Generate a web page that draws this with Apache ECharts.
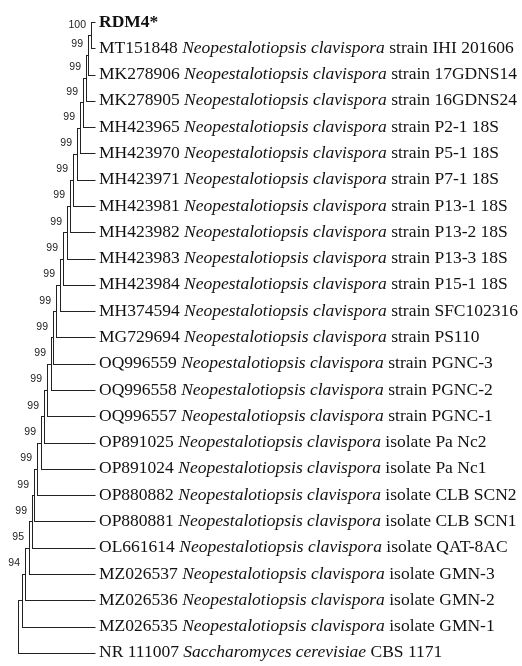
<!DOCTYPE html>
<html><head><meta charset="utf-8">
<script src="https://cdn.jsdelivr.net/npm/echarts@6/dist/echarts.min.js"></script>
<style>html,body{margin:0;padding:0;background:#fff}#c{width:522px;height:666px}</style>
</head><body><div id="c"></div>
<script>
const leafIds = ['RDM4*', 'MT151848', 'MK278906', 'MK278905', 'MH423965', 'MH423970', 'MH423971', 'MH423981', 'MH423982', 'MH423983', 'MH423984', 'MH374594', 'MG729694', 'OQ996559', 'OQ996558', 'OQ996557', 'OP891025', 'OP891024', 'OP880882', 'OP880881', 'OL661614', 'MZ026537', 'MZ026536', 'MZ026535', 'NR 111007'];
const NC = 'Neopestalotiopsis clavispora';
const leafSpecies = ['', NC, NC, NC, NC, NC, NC, NC, NC, NC, NC, NC, NC, NC, NC, NC, NC, NC, NC, NC, NC, NC, NC, NC, 'Saccharomyces cerevisiae'];
const leafQualifiers = ['', 'strain IHI 201606', 'strain 17GDNS14', 'strain 16GDNS24', 'strain P2-1 18S', 'strain P5-1 18S', 'strain P7-1 18S', 'strain P13-1 18S', 'strain P13-2 18S', 'strain P13-3 18S', 'strain P15-1 18S', 'strain SFC102316', 'strain PS110', 'strain PGNC-3', 'strain PGNC-2', 'strain PGNC-1', 'isolate Pa Nc2', 'isolate Pa Nc1', 'isolate CLB SCN2', 'isolate CLB SCN1', 'isolate QAT-8AC', 'isolate GMN-3', 'isolate GMN-2', 'isolate GMN-1', 'CBS 1171'];
// depth of each internal node (node k joins clade of leaves 0..k with leaf k+1), root = 0
const nodeDepths = [73, 70, 68, 65, 62, 59, 55, 52, 49, 45, 42, 38, 35, 33, 29, 26, 23, 19, 16, 14, 11, 7, 4, 0];
const bootstrap = [100, 99, 99, 99, 99, 99, 99, 99, 99, 99, 99, 99, 99, 99, 99, 99, 99, 99, 99, 99, 95, 94, null, null];
const tipDepth = 77;

const nodeY = [];
nodeDepths.forEach(function (d, k) {
  nodeY.push(k === 0 ? 0.5 : (nodeY[k - 1] + k + 1) / 2);
});
const nodeData = nodeDepths.map(function (d, k) {
  const a = k === 0 ? [tipDepth, 0] : [nodeDepths[k - 1], nodeY[k - 1]];
  return [d, nodeY[k], a[0], a[1], tipDepth, k + 1];
});
const leafData = leafIds.map(function (id, i) { return [tipDepth, i]; });

const LINE = '#222';
function px(v) { return Math.round(v) + 0.5; }
const FS = 17.5;
const SERIF = '"Liberation Serif", "Times New Roman", serif';

const chart = echarts.init(document.getElementById('c'), null, {renderer: 'canvas'});
chart.setOption({
  animation: false,
  backgroundColor: '#fff',
  grid: {left: 18, width: 77, top: 8.85, height: 657.3},
  xAxis: {type: 'value', min: 0, max: tipDepth, show: false},
  yAxis: {type: 'value', min: -0.5, max: 24.5, inverse: true, show: false},
  series: [
    {
      type: 'custom',
      data: nodeData,
      renderItem: function (params, api) {
        const p = api.coord([api.value(0), api.value(1)]);
        const pa = api.coord([api.value(2), api.value(3)]);
        const pb = api.coord([api.value(4), api.value(5)]);
        const x0 = px(p[0]);
        const st = {stroke: LINE, lineWidth: 1};
        const ch = [
          {type: 'line', shape: {x1: x0, y1: px(pa[1]) - 0.5, x2: x0, y2: px(pb[1]) + 0.5}, style: st},
          {type: 'line', shape: {x1: x0, y1: px(pa[1]), x2: px(pa[0]), y2: px(pa[1])}, style: st},
          {type: 'line', shape: {x1: x0, y1: px(pb[1]), x2: px(pb[0]), y2: px(pb[1])}, style: st}
        ];
        const bs = bootstrap[params.dataIndex];
        if (bs != null) {
          ch.push({type: 'text', x: p[0] - 5, y: p[1] - 5, style: {text: String(bs), align: 'right', verticalAlign: 'bottom', fontSize: 10.5, fontFamily: '"Liberation Sans", Arial, sans-serif', fill: '#222'}});
        }
        return {type: 'group', children: ch};
      }
    },
    {
      type: 'custom',
      data: leafData,
      renderItem: function (params, api) {
        const i = params.dataIndex;
        const p = api.coord([api.value(0), api.value(1)]);
        let txt;
        if (!leafSpecies[i]) txt = '{b|' + leafIds[i] + '}';
        else txt = '{r|' + leafIds[i] + ' }{i|' + leafSpecies[i] + '}{r| ' + leafQualifiers[i] + '}';
        return {
          type: 'text', x: p[0] + 4, y: p[1],
          style: {
            text: txt, align: 'left', verticalAlign: 'middle', fill: '#111',
            rich: {
              r: {fontSize: FS, fontFamily: SERIF, fill: '#111'},
              i: {fontSize: FS, fontFamily: SERIF, fontStyle: 'italic', fill: '#111'},
              b: {fontSize: FS, fontFamily: SERIF, fontWeight: 'bold', fill: '#111'}
            }
          }
        };
      }
    }
  ]
});
</script></body></html>
